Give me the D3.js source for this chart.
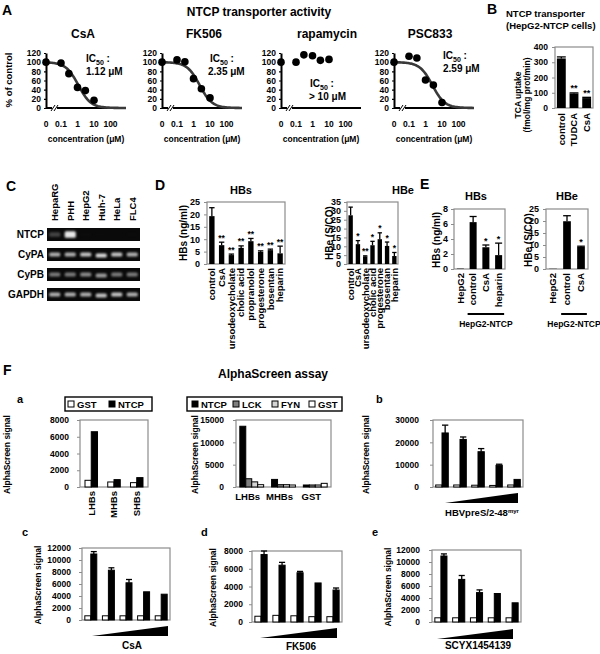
<!DOCTYPE html>
<html><head><meta charset="utf-8">
<script src="https://cdn.jsdelivr.net/npm/d3@7"></script>
<style>body{margin:0;background:#fff}svg{display:block}</style>
</head><body>
<script>
// ---------------- DATA ----------------
// Panel A: NTCP transporter activity (% of control)
const concentrations = [0, 0.1, 0.3, 1, 3, 10];
const concTickLabels = ["0", "0.1", "1", "10", "100"];
const pctTicks = [0, 20, 40, 60, 80, 100, 120];
const drugsA = ["CsA", "FK506", "rapamycin", "PSC833"];
const activityCsA = [100, 98, 75, 45, 38, 17];
const activityFK506 = [100, 105, 101, 64, 42, 22];
const activityRapamycin = [100, 100, 116, 114, 104, 106];
const activityPSC833 = [100, 113, 109, 61, 50, 12];
const ic50Values = [1.12, 2.35, null, 2.59];
const ic50Labels = ["1.12 \u03bcM", "2.35 \u03bcM", "> 10 \u03bcM", "2.59 \u03bcM"];

// Panel B: TCA uptake
const tcaCats = ["control", "TUDCA", "CsA"];
const tcaUptake = [325, 95, 65];
const tcaErr = [10, 4, 5];
const tcaStars = ["", "**", "**"];
const tcaTicks = [0, 100, 200, 300, 400];

// Panel C: RT-PCR gel (band intensity 0-1)
const gelLanes = ["HepaRG", "PHH", "HepG2", "Huh-7", "HeLa", "FLC4"];
const gelGenes = ["NTCP", "CyPA", "CyPB", "GAPDH"];
const bandNTCP = [0.45, 0.95, 0.06, 0.04, 0.03, 0.05];
const bandCyPA = [0.8, 0.8, 0.85, 0.9, 0.85, 0.8];
const bandCyPB = [0.65, 0.65, 0.7, 0.75, 0.65, 0.65];
const bandGAPDH = [0.8, 0.8, 0.8, 0.85, 0.85, 0.8];

// Panel D
const dHBsCats = ["control", "CsA", "ursodeoxycholate", "cholic acid", "propranolol", "progesterone", "bosentan", "heparin"];
const dHBsVals = [19.3, 7.6, 3.6, 6.5, 9.2, 4.9, 5.6, 4.3];
const dHBsErr = [3.4, 1.2, 0.4, 0.8, 1.1, 0.4, 0.4, 2.9];
const dHBsStars = ["", "**", "**", "**", "**", "**", "**", "**"];
const dHBsTicks = [0, 5, 10, 15, 20, 25];
const dHBeCats = ["control", "CsA", "ursodeoxycholate", "cholic acid", "progesterone", "bosentan", "heparin"];
const dHBeVals = [27.5, 11.2, 4.3, 10.6, 14.0, 10.2, 4.5];
const dHBeErr = [4.6, 2.0, 0.3, 2.2, 3.6, 2.2, 2.0];
const dHBeStars = ["", "*", "**", "*", "*", "*", "*"];
const dHBeTicks = [0, 5, 10, 15, 20, 25, 30, 35];

// Panel E
const eHBsCats = ["HepG2", "control", "CsA", "heparin"];
const eHBsVals = [0.05, 6.25, 2.9, 1.85];
const eHBsErr = [0, 0.75, 0.3, 1.6];
const eHBsStars = ["", "", "*", "*"];
const eHBsTicks = [0, 2, 4, 6, 8];
const eHBeCats = ["HepG2", "control", "CsA"];
const eHBeVals = [0.1, 19.9, 9.2];
const eHBeErr = [0, 2.3, 0.3];
const eHBeStars = ["", "", "*"];
const eHBeTicks = [0, 5, 10, 15, 20, 25];

// Panel F-a
const fACats = ["LHBs", "MHBs", "SHBs"];
const fA_GST = [800, 600, 520];
const fA_NTCP = [6600, 880, 1120];
const fATicks = [0, 2000, 4000, 6000, 8000];

// Panel F (middle)
const fMCats = ["LHBs", "MHBs", "GST"];
const fMSeries = ["NTCP", "LCK", "FYN", "GST"];
const fM_NTCP = [13600, 1700, 450];
const fM_LCK = [1850, 520, 450];
const fM_FYN = [1150, 520, 450];
const fM_GST = [520, 450, 820];
const fMTicks = [0, 5000, 10000, 15000];

// Panel F-b..e : 5 increasing doses
const doseSteps = ["d1", "d2", "d3", "d4", "d5"];
const fB_GST = [900, 900, 800, 700, 900];
const fB_NTCP = [24200, 21300, 15800, 9700, 3400];
const fB_Err = [3500, 1100, 1400, 500, 0];
const fBTicks = [0, 10000, 20000, 30000];
const fC_GST = [700, 700, 700, 700, 700];
const fC_NTCP = [11000, 8300, 6200, 4700, 4300];
const fC_Err = [400, 400, 550, 0, 0];
const fCTicks = [0, 2000, 4000, 6000, 8000, 10000, 12000];
const fD_GST = [650, 750, 700, 600, 600];
const fD_NTCP = [7600, 6400, 5550, 4400, 3600];
const fD_Err = [400, 320, 150, 0, 230];
const fDTicks = [0, 2000, 4000, 6000, 8000];
const fE_GST = [700, 700, 700, 700, 700];
const fE_NTCP = [11000, 7100, 4900, 4750, 3200];
const fE_Err = [350, 650, 450, 0, 0];
const fETicks = [0, 2000, 4000, 6000, 8000, 10000, 12000];

// ---------------- DRAWING ----------------
const W = 600, H = 654;
const FONT = "'Liberation Sans', Arial, Helvetica, sans-serif";
const svg = d3.select("body").append("svg").attr("width", W).attr("height", H)
  .style("font-family", FONT).style("font-weight", "bold");
svg.append("rect").attr("width", W).attr("height", H).attr("fill", "#fff");
const defs = svg.append("defs");
defs.append("filter").attr("id", "blur").attr("x", "-50%").attr("y", "-100%").attr("width", "200%").attr("height", "300%")
  .append("feGaussianBlur").attr("stdDeviation", 0.9);

function txt(g, x, y, s, size, anchor = "start") {
  return g.append("text").attr("x", x).attr("y", y).attr("font-size", size)
    .attr("text-anchor", anchor).attr("fill", "#000").text(s);
}
function vtxt(g, x, y, s, size, anchor = "middle") {
  return g.append("text").attr("transform", `translate(${x},${y}) rotate(-90)`)
    .attr("font-size", size).attr("text-anchor", anchor).attr("dy", "0.35em").attr("fill", "#000").text(s);
}
const fmt = d3.format("d");
const bandColor = d3.scaleLinear().domain([0, 1]).range(["#202020", "#f2f2f2"]);

// ===== Panel A =====
txt(svg, 2, 15, "A", 14);
txt(svg, 259, 16, "NTCP transporter activity", 12, "middle");
const layoutA = [
  { x0: 46, tx: 83, icx: 86, vx: 86, icy: 62, vy: 75 },
  { x0: 162, tx: 204, icx: 210, vx: 208, icy: 62, vy: 75 },
  { x0: 281, tx: 327, icx: 310, vx: 309, icy: 87, vy: 100 },
  { x0: 394, tx: 430, icx: 443, vx: 443, icy: 59, vy: 72 }
];
const activities = [activityCsA, activityFK506, activityRapamycin, activityPSC833];
const yA = d3.scaleLinear().domain([0, 120]).range([108, 53]);
drugsA.forEach((drug, k) => {
  const L = layoutA[k];
  const g = svg.append("g");
  const xL = d3.scaleLog().domain([0.1, 100]).range([L.x0 + 15, L.x0 + 64.5]);
  const xPos = c => c === 0 ? L.x0 : xL(c);
  txt(g, L.tx, 38, drug, 12, "middle");
  const ax = g.append("g").attr("transform", `translate(${L.x0},0)`)
    .call(d3.axisLeft(yA).tickValues(pctTicks).tickSize(2).tickSizeOuter(0).tickPadding(3));
  ax.select(".domain").attr("stroke", "#000").attr("stroke-width", 2);
  ax.selectAll(".tick line").attr("stroke", "#000").attr("stroke-width", 1.2);
  ax.selectAll(".tick text").attr("font-size", 8.5).attr("font-family", FONT).attr("font-weight", "bold").attr("fill", "#000");
  g.append("line").attr("x1", L.x0).attr("x2", L.x0 + 80).attr("y1", yA(0)).attr("y2", yA(0))
    .attr("stroke", "#000").attr("stroke-width", 2);
  g.append("rect").attr("x", L.x0 + 6).attr("y", yA(0) - 3).attr("width", 5).attr("height", 6).attr("fill", "#fff");
  [0, 3].forEach(d => g.append("line").attr("x1", L.x0 + 5 + d).attr("y1", yA(0) + 3)
    .attr("x2", L.x0 + 9 + d).attr("y2", yA(0) - 3).attr("stroke", "#000").attr("stroke-width", 1));
  g.selectAll(".xt").data(concTickLabels).join("text")
    .attr("x", s => xPos(+s)).attr("y", 127).attr("text-anchor", "middle").attr("font-size", 8.5).text(s => s);
  txt(g, L.x0 + 40, 142, "concentration (\u03bcM)", 8.5, "middle");
  if (ic50Values[k] !== null) {
    const ic = ic50Values[k];
    const pts = d3.range(L.x0, L.x0 + 80.5, 1).map(px => {
      const c = xL.invert(px);
      return [px, yA(100 / (1 + Math.pow(c / ic, 1.15)))];
    });
    g.append("path").attr("d", d3.line()(pts)).attr("fill", "none").attr("stroke", "#3a3a3a").attr("stroke-width", 2.6);
  }
  g.selectAll(".pt").data(activities[k]).join("circle")
    .attr("cx", (v, i) => xPos(concentrations[i])).attr("cy", v => yA(v)).attr("r", 3.8).attr("fill", "#000");
  const t = txt(g, L.icx, L.icy, "IC", 10);
  t.append("tspan").attr("font-size", 7).attr("dy", 2.5).text("50");
  t.append("tspan").attr("dy", -2.5).text(" :");
  txt(g, L.vx, L.vy, ic50Labels[k], 10);
});
vtxt(svg, 9, 80, "% of control", 9.5);

// ===== Generic helpers for framed bar charts =====
function frameAxis(g, x0, x1, y, max, ticks, fs, pad) {
  g.append("rect").attr("x", x0).attr("y", y(max)).attr("width", x1 - x0).attr("height", y(0) - y(max))
    .attr("fill", "none").attr("stroke", "#8c8c8c").attr("stroke-width", 1.2);
  const ax = g.append("g").attr("transform", `translate(${x0},0)`)
    .call(d3.axisLeft(y).tickValues(ticks).tickFormat(fmt).tickSize(3).tickPadding(pad));
  ax.select(".domain").remove();
  ax.selectAll(".tick line").attr("stroke", "#8c8c8c");
  ax.selectAll(".tick text").attr("font-size", fs).attr("font-family", FONT).attr("font-weight", "bold").attr("fill", "#000");
}
function errBar(g, cx, yTop, yErr, cap) {
  g.append("line").attr("x1", cx).attr("x2", cx).attr("y1", yTop).attr("y2", yErr).attr("stroke", "#000").attr("stroke-width", 1.3);
  g.append("line").attr("x1", cx - cap).attr("x2", cx + cap).attr("y1", yErr).attr("y2", yErr).attr("stroke", "#000").attr("stroke-width", 1.3);
}
function barPanel(o) {
  const g = svg.append("g");
  const x = d3.scaleBand().domain(o.cats).range([o.x0, o.x1]).paddingInner(o.pad).paddingOuter(o.pad / 2);
  const y = d3.scaleLinear().domain([0, o.max]).range([o.yBot, o.yTop]);
  frameAxis(g, o.x0, o.x1, y, o.max, o.ticks, o.tfs, o.tpad);
  const bw = x.bandwidth();
  g.selectAll(".bar").data(o.vals).join("rect")
    .attr("x", (v, i) => x(o.cats[i])).attr("y", v => y(v)).attr("width", bw)
    .attr("height", v => y(0) - y(v)).attr("fill", "#000");
  o.vals.forEach((v, i) => {
    const cx = x(o.cats[i]) + bw / 2;
    if (o.errs[i] > 0) errBar(g, cx, y(v), y(v + o.errs[i]), bw / 2);
    if (o.stars[i]) txt(g, cx, y(v + o.errs[i]) - 1.5, o.stars[i], o.sfs, "middle");
  });
  g.selectAll(".lab").data(o.cats).join("text")
    .attr("transform", c => `translate(${x(c) + bw / 2},${o.yBot + o.lgap}) rotate(-90)`)
    .attr("text-anchor", "end").attr("dy", "0.35em").attr("font-size", o.lfs).text(c => c);
  if (o.title) txt(g, o.title[0], o.title[1], o.titleText, o.titleFs || 11, "middle");
  if (o.ylab) vtxt(g, o.ylab[0], o.ylab[1], o.ylabText, o.ylfs);
  return { g, x, y };
}

// ===== Panel B =====
txt(svg, 487, 14, "B", 14);
txt(svg, 506, 17, "NTCP transporter", 9.5);
txt(svg, 506, 29, "(HepG2-NTCP cells)", 9.5);
barPanel({
  cats: tcaCats, vals: tcaUptake, errs: tcaErr, stars: tcaStars, ticks: tcaTicks, max: 400,
  x0: 555, x1: 593, yTop: 47, yBot: 108, pad: 0.3, tfs: 8.5, tpad: 4, sfs: 9, lfs: 9.5, lgap: 5
});
vtxt(svg, 518, 95, "TCA uptake", 8.5);
vtxt(svg, 527, 95, "(fmol/mg prot/min)", 8.5);

// ===== Panel C =====
txt(svg, 6, 191, "C", 14);
{
  const g = svg.append("g");
  const lx = d3.scaleBand().domain(gelLanes).range([47, 140]).paddingInner(0.28).paddingOuter(0.14);
  const ry = d3.scaleBand().domain(gelGenes).range([228, 301]).paddingInner(0.35);
  const bands = [bandNTCP, bandCyPA, bandCyPB, bandGAPDH];
  gelGenes.forEach((gene, r) => {
    g.append("rect").attr("x", 47).attr("y", ry(gene)).attr("width", 93).attr("height", ry.bandwidth()).attr("fill", "#0a0a0a");
    txt(g, 44, ry(gene) + ry.bandwidth() / 2 + 3.5, gene, 10, "end");
    const cy = ry(gene) + ry.bandwidth() / 2;
    g.selectAll(null).data(bands[r]).join("rect")
      .attr("x", (v, i) => lx(gelLanes[i])).attr("width", lx.bandwidth())
      .attr("y", (v, i) => cy - (r === 0 ? 1.4 + 2 * v : 2) + (i === 3 && r > 0 ? 1 : 0))
      .attr("height", v => (r === 0 ? 2.8 + 4 * v : 4)).attr("rx", 1.5)
      .attr("fill", v => bandColor(v)).attr("opacity", v => Math.min(1, v * 1.1))
      .attr("filter", "url(#blur)");
  });
  g.selectAll(".lane").data(gelLanes).join("text")
    .attr("transform", l => `translate(${lx(l) + lx.bandwidth() / 2},221) rotate(-90)`)
    .attr("dy", "0.35em").attr("font-size", 9.5).attr("text-anchor", "start").text(l => l);
}

// ===== Panel D =====
txt(svg, 155, 190, "D", 14);
barPanel({
  cats: dHBsCats, vals: dHBsVals, errs: dHBsErr, stars: dHBsStars, ticks: dHBsTicks, max: 25,
  x0: 207, x1: 285, yTop: 202, yBot: 264, pad: 0.45, tfs: 9, tpad: 4, sfs: 8.5, lfs: 9.5, lgap: 4,
  title: [241, 194], titleText: "HBs", ylab: [183, 233], ylabText: "HBs (ng/ml)", ylfs: 10
});
barPanel({
  cats: dHBeCats, vals: dHBeVals, errs: dHBeErr, stars: dHBeStars, ticks: dHBeTicks, max: 35,
  x0: 347, x1: 398, yTop: 202, yBot: 264, pad: 0.4, tfs: 9, tpad: 3, sfs: 8.5, lfs: 9.5, lgap: 4,
  title: [403, 194], titleText: "HBe", ylab: [329, 233], ylabText: "HBe (S/CO)", ylfs: 10
});

// ===== Panel E =====
txt(svg, 420, 189, "E", 14);
const eS = barPanel({
  cats: eHBsCats, vals: eHBsVals, errs: eHBsErr, stars: eHBsStars, ticks: eHBsTicks, max: 8,
  x0: 454, x1: 505, yTop: 209, yBot: 269, pad: 0.45, tfs: 9, tpad: 3, sfs: 9, lfs: 9.5, lgap: 4,
  title: [476, 200], titleText: "HBs", ylab: [436, 240], ylabText: "HBs (ng/ml)", ylfs: 10
});
const eE = barPanel({
  cats: eHBeCats, vals: eHBeVals, errs: eHBeErr, stars: eHBeStars, ticks: eHBeTicks, max: 25,
  x0: 546, x1: 588, yTop: 209, yBot: 269, pad: 0.45, tfs: 9, tpad: 4, sfs: 9, lfs: 9.5, lgap: 4,
  title: [567, 200], titleText: "HBe", ylab: [528, 240], ylabText: "HBe (S/CO)", ylfs: 10
});
[[eS, eHBsCats], [eE, eHBeCats]].forEach(([p, cats]) => {
  const a = p.x(cats[1]) - 2, b = p.x(cats[cats.length - 1]) + p.x.bandwidth() + 2;
  svg.append("line").attr("x1", a).attr("x2", b).attr("y1", 314).attr("y2", 314).attr("stroke", "#000").attr("stroke-width", 2);
  txt(svg, (a + b) / 2, 327, "HepG2-NTCP", 8.5, "middle");
});

// ===== Panel F =====
txt(svg, 3, 375, "F", 14);
txt(svg, 273, 378, "AlphaScreen assay", 12, "middle");

function groupedPanel(o) {
  const g = svg.append("g");
  const x = d3.scaleBand().domain(o.cats).range([o.x0, o.x1]).paddingInner(o.pad).paddingOuter(o.padOuter);
  const xs = d3.scaleBand().domain(o.series.map(s => s.name)).range([0, x.bandwidth()]);
  const y = d3.scaleLinear().domain([0, o.max]).range([o.yBot, o.yTop]);
  frameAxis(g, o.x0, o.x1, y, o.max, o.ticks, 8.5, o.tpad);
  o.series.forEach(s => {
    g.selectAll(null).data(s.vals).join("rect")
      .attr("x", (v, i) => x(o.cats[i]) + xs(s.name)).attr("y", v => y(v))
      .attr("width", xs.bandwidth()).attr("height", v => y(0) - y(v))
      .attr("fill", s.color).attr("stroke", "#000").attr("stroke-width", 1);
    if (s.errs) s.vals.forEach((v, i) => {
      if (s.errs[i] > 0) errBar(g, x(o.cats[i]) + xs(s.name) + xs.bandwidth() / 2, y(v), y(v + s.errs[i]), xs.bandwidth() / 2);
    });
  });
  if (o.rotLabels) {
    g.selectAll(".lab").data(o.cats).join("text")
      .attr("transform", c => `translate(${x(c) + x.bandwidth() / 2},${o.yBot + 4}) rotate(-90)`)
      .attr("text-anchor", "end").attr("dy", "0.35em").attr("font-size", 9.5).text(c => c);
  } else if (o.hLabels) {
    g.selectAll(".lab").data(o.cats).join("text")
      .attr("x", c => x(c) + x.bandwidth() / 2 - 4).attr("y", o.yBot + 13)
      .attr("text-anchor", "middle").attr("font-size", 9.5).text(c => c);
  }
  if (o.wedge) {
    const [a, b, h] = o.wedge;
    const yb = o.yBot + o.wedgeGap;
    g.append("path").attr("d", d3.line()([[a, yb], [b, yb], [b, yb - h]]) + "Z").attr("fill", "#000");
  }
  vtxt(g, o.ylabX, (o.yTop + o.yBot) / 2 + 1, "AlphaScreen signal", 8.5);
  if (o.letter) txt(g, o.letter[0], o.letter[1], o.letter[2], 11);
  return { g, x, y };
}
function legendBox(x0, x1, y0, items) {
  const g = svg.append("g");
  g.append("rect").attr("x", x0).attr("y", y0).attr("width", x1 - x0).attr("height", 14)
    .attr("fill", "#fff").attr("stroke", "#000").attr("stroke-width", 1.4);
  items.forEach(it => {
    g.append("rect").attr("x", it.x).attr("y", y0 + 4).attr("width", 6).attr("height", 6)
      .attr("fill", it.color).attr("stroke", "#000").attr("stroke-width", 1);
    txt(g, it.x + 9, y0 + 10.5, it.name, 9.5);
  });
}

// F-a
legendBox(65, 152, 397, [{ x: 68, color: "#fff", name: "GST" }, { x: 109, color: "#000", name: "NTCP" }]);
groupedPanel({
  cats: fACats, series: [{ name: "GST", vals: fA_GST, color: "#fff" }, { name: "NTCP", vals: fA_NTCP, color: "#000" }],
  x0: 80, x1: 148, yTop: 420, yBot: 487, max: 8000, ticks: fATicks, pad: 0.45, padOuter: 0.22, tpad: 8,
  rotLabels: true, ylabX: 7, letter: [17, 403, "a"]
});
// F-middle
legendBox(187, 342, 397, [
  { x: 192, color: "#000", name: "NTCP" }, { x: 233, color: "#7f7f7f", name: "LCK" },
  { x: 272, color: "#d4d4d4", name: "FYN" }, { x: 309, color: "#fff", name: "GST" }]);
groupedPanel({
  cats: fMCats, series: [
    { name: "NTCP", vals: fM_NTCP, color: "#000" }, { name: "LCK", vals: fM_LCK, color: "#7f7f7f" },
    { name: "FYN", vals: fM_FYN, color: "#d4d4d4" }, { name: "GST", vals: fM_GST, color: "#fff" }],
  x0: 236, x1: 331, yTop: 420, yBot: 487, max: 15000, ticks: fMTicks, pad: 0.25, padOuter: 0.12, tpad: 9,
  hLabels: true, ylabX: 195
});
// F-b
groupedPanel({
  cats: doseSteps, series: [{ name: "GST", vals: fB_GST, color: "#fff" }, { name: "NTCP", vals: fB_NTCP, errs: fB_Err, color: "#000" }],
  x0: 433, x1: 523, yTop: 420, yBot: 487, max: 30000, ticks: fBTicks, pad: 0.3, padOuter: 0.15, tpad: 11,
  wedge: [445, 518, 10], wedgeGap: 16, ylabX: 366, letter: [376, 403, "b"]
});
{
  const t = txt(svg, 482, 516, "HBVpreS/2-48", 9.5, "middle");
  t.append("tspan").attr("font-size", 6).attr("dy", -3.5).text("myr");
}
// F-c
groupedPanel({
  cats: doseSteps, series: [{ name: "GST", vals: fC_GST, color: "#fff" }, { name: "NTCP", vals: fC_NTCP, errs: fC_Err, color: "#000" }],
  x0: 82, x1: 170, yTop: 548, yBot: 620, max: 12000, ticks: fCTicks, pad: 0.32, padOuter: 0.16, tpad: 8,
  wedge: [92, 168, 10], wedgeGap: 16, ylabX: 38, letter: [22, 536, "c"]
});
txt(svg, 132, 649, "CsA", 10, "middle");
// F-d
groupedPanel({
  cats: doseSteps, series: [{ name: "GST", vals: fD_GST, color: "#fff" }, { name: "NTCP", vals: fD_NTCP, errs: fD_Err, color: "#000" }],
  x0: 252, x1: 342, yTop: 551, yBot: 622, max: 8000, ticks: fDTicks, pad: 0.32, padOuter: 0.16, tpad: 6,
  wedge: [260, 337, 10], wedgeGap: 16, ylabX: 213, letter: [201, 536, "d"]
});
txt(svg, 301, 650, "FK506", 10, "middle");
// F-e
groupedPanel({
  cats: doseSteps, series: [{ name: "GST", vals: fE_GST, color: "#fff" }, { name: "NTCP", vals: fE_NTCP, errs: fE_Err, color: "#000" }],
  x0: 432, x1: 521, yTop: 550, yBot: 622, max: 12000, ticks: fETicks, pad: 0.32, padOuter: 0.16, tpad: 9,
  wedge: [437, 513, 10], wedgeGap: 17, ylabX: 388, letter: [372, 536, "e"]
});
txt(svg, 478, 649, "SCYX1454139", 10, "middle");
</script>
</body></html>
